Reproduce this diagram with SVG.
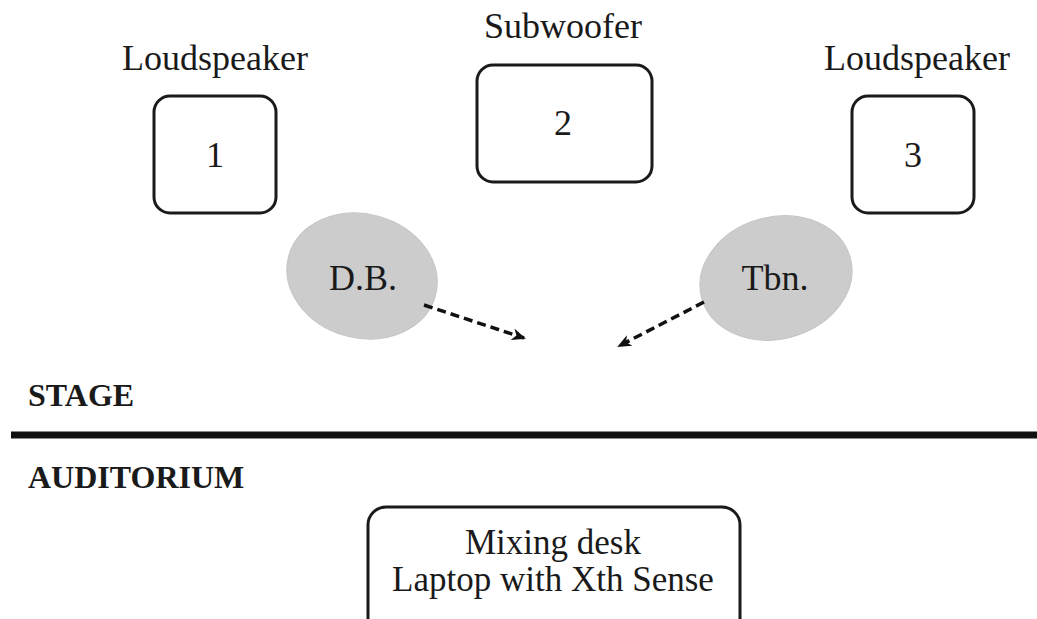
<svg xmlns="http://www.w3.org/2000/svg" width="1037" height="619" viewBox="0 0 1037 619">
  <defs>
    <style>
      .lbl { font-family: "Liberation Serif", "Times New Roman", serif; font-size: 36px; fill: #1a1a1a; text-anchor: middle; }
      .desk { font-family: "Liberation Serif", "Times New Roman", serif; font-size: 35px; fill: #1a1a1a; text-anchor: middle; }
      .zone { font-family: "Liberation Serif", "Times New Roman", serif; font-size: 32px; font-weight: bold; fill: #1a1a1a; }
      .box { fill: #ffffff; stroke: #1a1a1a; stroke-width: 3; }
      .player { fill: #cccccc; stroke: #c4c4c4; stroke-width: 1; }
      .flow { fill: none; stroke: #111111; stroke-width: 3.5; stroke-dasharray: 9 5; }
    </style>
    <marker id="head" viewBox="0 0 14 12" refX="12" refY="6" markerWidth="14" markerHeight="12" markerUnits="userSpaceOnUse" orient="auto">
      <path d="M0,0 L14,6 L0,12 L4,6 Z" fill="#111111"/>
    </marker>
  </defs>

  <rect width="1037" height="619" fill="#ffffff"/>

  <!-- speakers -->
  <g id="speaker1">
    <text class="lbl" x="215" y="70">Loudspeaker</text>
    <rect class="box" x="154" y="96" width="122" height="117" rx="16"/>
    <text class="lbl" x="215" y="167">1</text>
  </g>
  <g id="subwoofer2">
    <text class="lbl" x="563" y="38">Subwoofer</text>
    <rect class="box" x="477" y="65" width="175" height="117" rx="16"/>
    <text class="lbl" x="563" y="135">2</text>
  </g>
  <g id="speaker3">
    <text class="lbl" x="917" y="70">Loudspeaker</text>
    <rect class="box" x="852" y="96" width="122" height="117" rx="16"/>
    <text class="lbl" x="913" y="167">3</text>
  </g>

  <!-- players -->
  <g id="player-db">
    <ellipse class="player" cx="362" cy="276" rx="76" ry="62" transform="rotate(15 362 276)"/>
    <text class="lbl" x="363" y="290">D.B.</text>
  </g>
  <g id="player-tbn">
    <ellipse class="player" cx="776" cy="278" rx="77" ry="61" transform="rotate(-15 776 278)"/>
    <text class="lbl" x="775" y="290">Tbn.</text>
  </g>

  <!-- direction of sound -->
  <g id="connectors">
    <line class="flow" x1="424" y1="305" x2="524" y2="338" marker-end="url(#head)"/>
    <line class="flow" x1="704" y1="302" x2="619" y2="346" marker-end="url(#head)"/>
  </g>

  <!-- stage edge -->
  <g id="stage-edge">
    <text class="zone" x="28" y="406">STAGE</text>
    <line x1="11" y1="435" x2="1037" y2="435" stroke="#111111" stroke-width="7"/>
    <text class="zone" x="28" y="488">AUDITORIUM</text>
  </g>

  <g id="mixing-desk">
    <rect class="box" x="368" y="507" width="372" height="130" rx="18"/>
    <text class="desk" x="553" y="554">Mixing desk</text>
    <text class="desk" x="553" y="591">Laptop with Xth Sense</text>
  </g>
</svg>
